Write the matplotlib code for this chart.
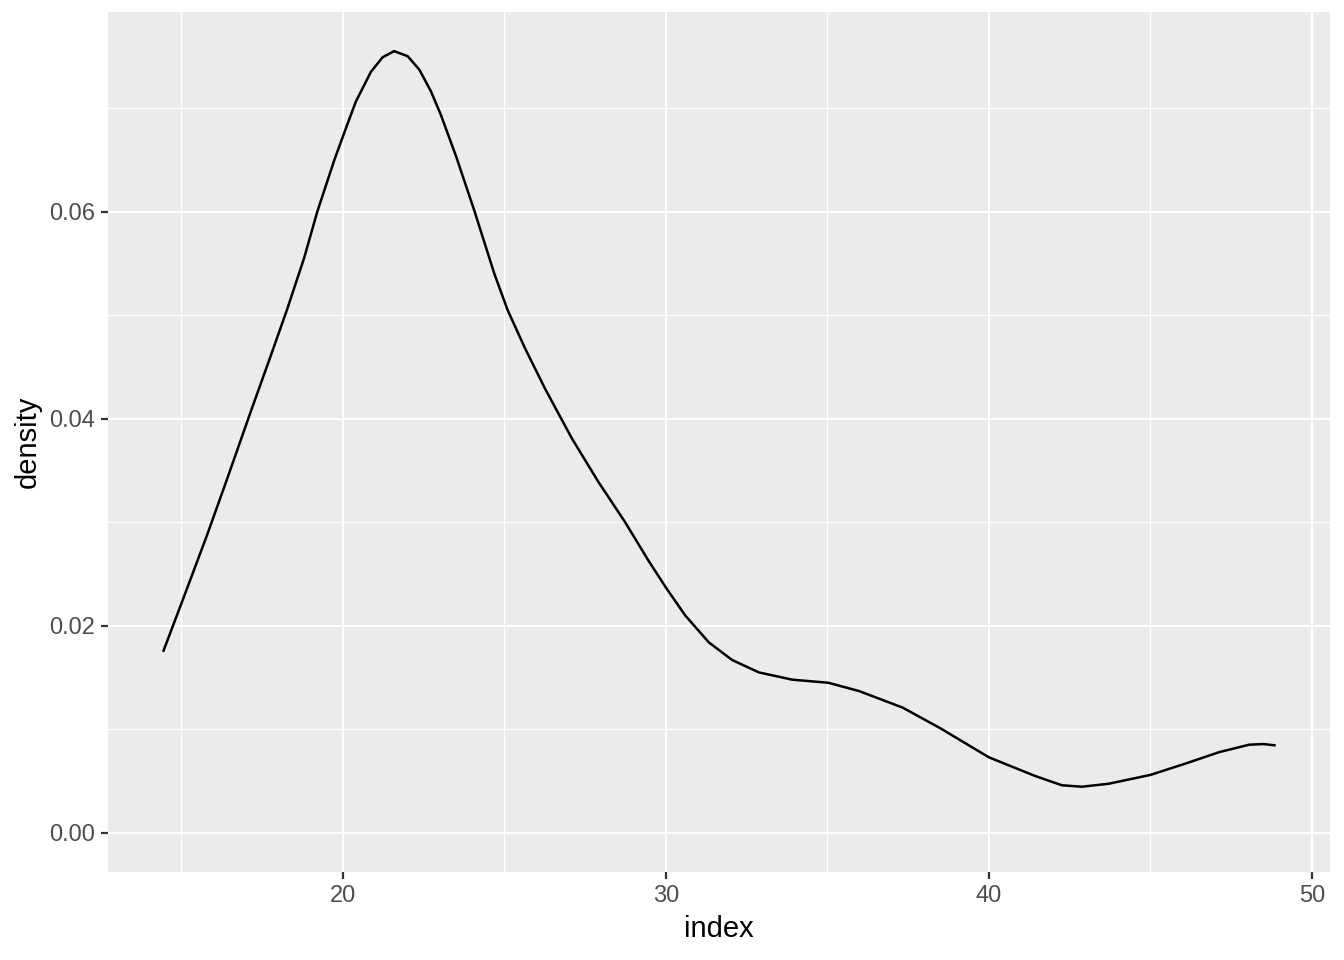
import matplotlib
matplotlib.use("Agg")
import matplotlib.pyplot as plt

# density curve
index = [14.45, 15.02, 15.79, 16.42, 17.14, 17.76, 18.28, 18.80, 19.21, 19.75,
         20.09, 20.40, 20.87, 21.23, 21.59, 22.01, 22.37, 22.73, 23.04, 23.51,
         24.07, 24.69, 25.10, 25.64, 26.26, 27.09, 27.91, 28.74, 29.46, 30.00,
         30.60, 31.33, 32.05, 32.88, 33.91, 35.03, 35.98, 37.33, 38.50, 40.00,
         41.43, 42.26, 42.88, 43.71, 45.00, 46.09, 47.13, 48.06, 48.50, 48.84]
density = [0.0176, 0.0223, 0.0287, 0.0342, 0.0406, 0.0460, 0.0506, 0.0555, 0.0600, 0.0651,
           0.0680, 0.0706, 0.0735, 0.0749, 0.0755, 0.0750, 0.0737, 0.0716, 0.0693, 0.0653,
           0.0601, 0.0540, 0.0505, 0.0468, 0.0429, 0.0381, 0.0339, 0.0300, 0.0263, 0.0237,
           0.0210, 0.0184, 0.0167, 0.0155, 0.0148, 0.0145, 0.0137, 0.0121, 0.0101, 0.0073,
           0.0055, 0.0046, 0.00446, 0.00475, 0.0056, 0.0067, 0.0078, 0.00852, 0.00858, 0.00846]

x_ticks = [20, 30, 40, 50]
x_minor = [15, 25, 35, 45]
y_ticks = [0.00, 0.02, 0.04, 0.06]
y_minor = [0.01, 0.03, 0.05, 0.07]

plt.rcParams['font.family'] = ['Liberation Sans', 'DejaVu Sans']

fig = plt.figure(figsize=(13.44, 9.6), dpi=100)
ax = fig.add_axes([108 / 1344, 1 - 872 / 960, (1330 - 108) / 1344, (872 - 12) / 960])
ax.set_facecolor('#EBEBEB')

ax.plot(index, density, color='black', linewidth=1.8, solid_joinstyle='round', zorder=3)

# ggplot-like limits with 5% expansion
xr = max(index) - min(index)
ax.set_xlim(min(index) - 0.05 * xr, max(index) + 0.05 * xr)
yr = max(density) - 0
ax.set_ylim(0 - 0.05 * yr, max(density) + 0.05 * yr)

ax.set_xticks(x_ticks)
ax.set_xticks(x_minor, minor=True)
ax.set_yticks(y_ticks)
ax.set_yticks(y_minor, minor=True)
ax.set_xticklabels([str(v) for v in x_ticks])
ax.set_yticklabels(['%.2f' % v for v in y_ticks])

ax.grid(which='major', color='white', linewidth=1.5)
ax.grid(which='minor', color='white', linewidth=0.8)
ax.set_axisbelow(True)

for s in ax.spines.values():
    s.set_visible(False)

ax.tick_params(which='major', length=5.3, width=1.6, color='#333333',
               labelcolor='#4D4D4D', labelsize=17, pad=4.2)
ax.tick_params(which='minor', length=0)

ax.set_xlabel('index', fontsize=21, color='black', labelpad=5.3)
ax.set_ylabel('density', fontsize=21, color='black', labelpad=5.3)

fig.savefig('out.png', dpi=100, facecolor='white')
